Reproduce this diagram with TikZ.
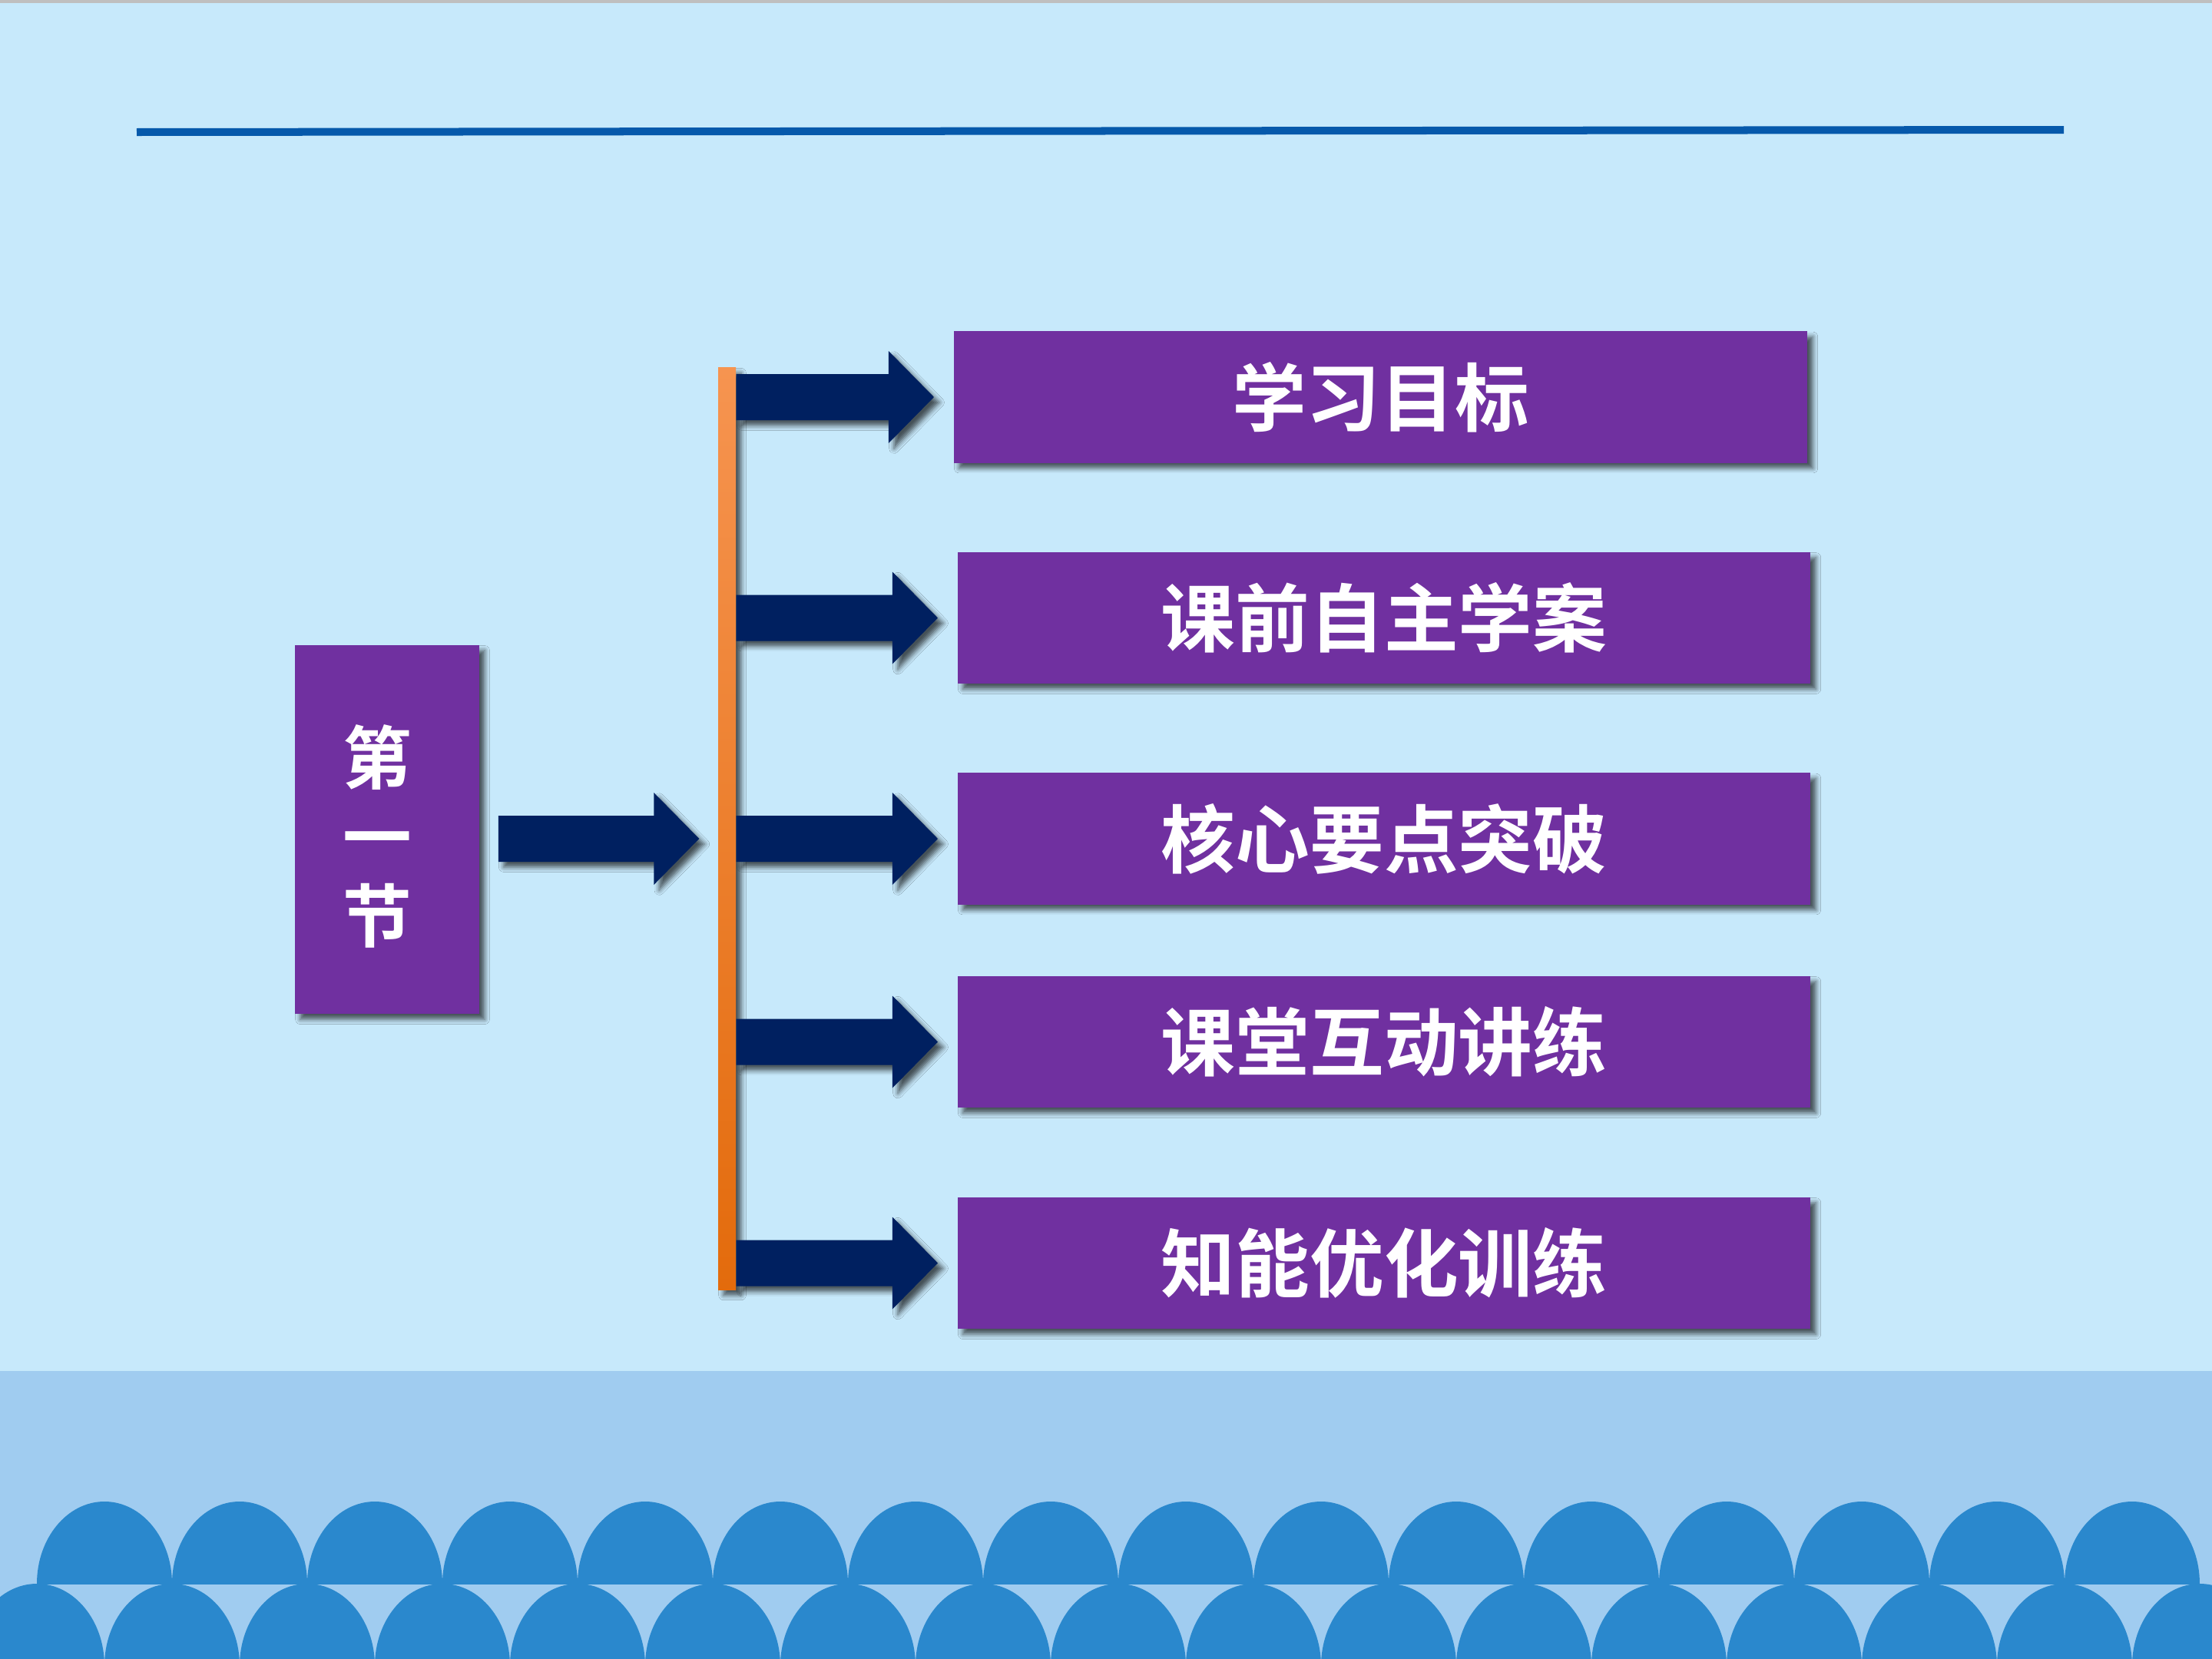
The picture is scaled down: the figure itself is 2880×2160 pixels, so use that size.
\documentclass[tikz,border=0pt]{standalone}
\usepackage{fontspec}
\newfontfamily\cjkb{Noto Sans CJK SC Bold}
\usetikzlibrary{calc,shadows.blur}
\definecolor{bgc}{HTML}{C7E9FB}
\definecolor{bandc}{HTML}{A0CCF0}
\definecolor{wavec}{HTML}{2A88CD}
\definecolor{purp}{HTML}{7030A0}
\definecolor{navy}{HTML}{002060}
\definecolor{lineblue}{HTML}{0659AB}
\definecolor{orgtop}{HTML}{F69450}
\definecolor{orgbot}{HTML}{E36B0C}
\tikzset{
  shd/.style={blur shadow={shadow xshift=2pt, shadow yshift=-2pt, shadow blur radius=1.8pt, shadow opacity=65}},
  itembox/.style={rectangle, fill=purp, inner sep=0pt, minimum width=11.10cm, minimum height=1.71cm,
     text=white, font=\cjkb\fontsize{27.5}{33}\selectfont, shd},
  blkarr/.style={fill=navy, shd},
  wave/.style={fill=wavec}
}
\newcommand\blkarrow[2]{%
  \path[blkarr] ($(#1)+(0,-30)$) -- ($(#2)+(-59,-30)$) -- ($(#2)+(-59,-60)$) -- (#2)
     -- ($(#2)+(-59,60)$) -- ($(#2)+(-59,30)$) -- ($(#1)+(0,30)$) -- cycle;}
\begin{document}
\begin{tikzpicture}[x=0.01cm,y=-0.01cm]
\useasboundingbox (0,0) rectangle (2880,2160);
% background
\fill[bgc] (0,0) rectangle (2880,2160);
\fill[black!25] (0,0) rectangle (2880,4);
\fill[bandc] (0,1785) rectangle (2880,2160);
\begin{scope}
  \clip (0,1785) rectangle (2880,2062);
  \foreach \k in {0,...,15} \fill[wave] (136+176*\k,2062) ellipse [x radius=88, y radius=107];
\end{scope}
\begin{scope}
  \clip (0,2062) rectangle (2880,2160);
  \foreach \k in {0,...,16} \fill[wave] (48+176*\k,2169) ellipse [x radius=88, y radius=107];
\end{scope}
% top rule
\draw[lineblue, line width=0.1cm] (178,172) -- (2687,169);
% section box
\node[rectangle, fill=purp, inner sep=0pt, minimum width=2.40cm, minimum height=4.80cm, shd] (sec) at (504,1080) {};
\node[text=white, align=center, inner sep=0pt, font=\cjkb\fontsize{25.5}{29.3}\selectfont] (sectxt) at (491,1089) {第\\一\\节};
% bar
\node[rectangle, inner sep=0pt, minimum width=0.23cm, minimum height=12.00cm, top color=orgtop, bottom color=orgbot, shd] (bar) at (946.5,1079) {};
% item boxes
\node[itembox, minimum width=11.11cm] (b1) at (1797.5,517) {学习目标};
\node[itembox] (b2) at (1802,804.5) {课前自主学案};
\node[itembox] (b3) at (1802,1092) {核心要点突破};
\node[itembox] (b4) at (1802,1356.5) {课堂互动讲练};
\node[itembox] (b5) at (1802,1644.5) {知能优化训练};
% arrows
\coordinate (l0s) at ($(sec.east |- b3.west)+(24,0)$);
\coordinate (l0t) at ($(bar.west |- b3.west)+(-24,0)$);
\blkarrow{l0s}{l0t}
\foreach \i in {1,...,5}{
  \coordinate (a\i s) at (bar.east |- b\i.west);
  \coordinate (a\i t) at ($(b\i.west)+(-25,0)$);
  \blkarrow{a\i s}{a\i t}
}
\end{tikzpicture}
\end{document}
